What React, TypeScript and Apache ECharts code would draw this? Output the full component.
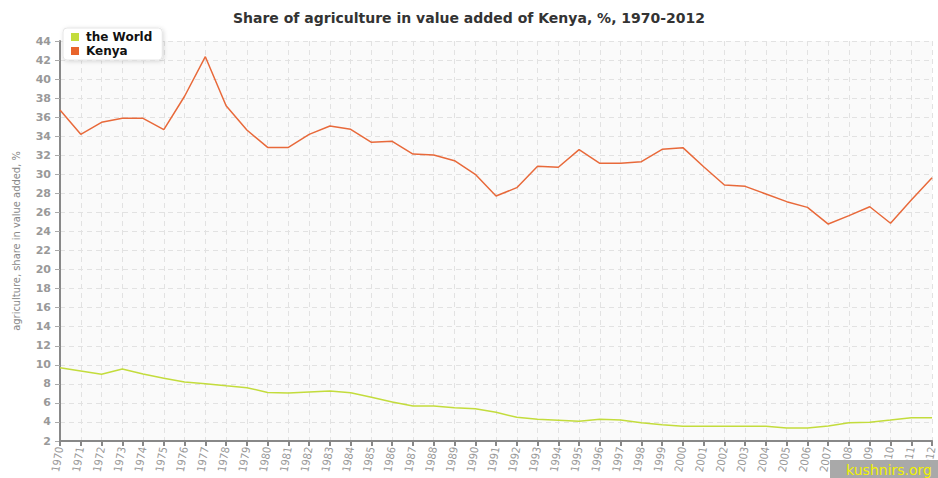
import React, { useEffect, useRef } from "react";
import * as echarts from "echarts";

const years: string[] = [];
for (let y = 1970; y <= 2012; y++) years.push(String(y));

const worldValues = [
  9.7, 9.35, 9.0, 9.56, 9.03, 8.6, 8.2, 8.02, 7.8, 7.6,
  7.1, 7.04, 7.15, 7.25, 7.07, 6.59, 6.1, 5.67, 5.67, 5.5,
  5.39, 5.01, 4.49, 4.28, 4.17, 4.07, 4.28, 4.2, 3.92, 3.71,
  3.54, 3.54, 3.54, 3.54, 3.54, 3.36, 3.36, 3.57, 3.92, 3.96,
  4.2, 4.45, 4.45,
];

const kenyaValues = [
  36.75, 34.2, 35.46, 35.88, 35.88, 34.69, 38.2, 42.35, 37.2, 34.65,
  32.83, 32.83, 34.2, 35.07, 34.73, 33.36, 33.47, 32.13, 32.03, 31.43,
  30.0, 27.72, 28.6, 30.84, 30.74, 32.59, 31.16, 31.16, 31.33, 32.63,
  32.8, 30.8, 28.88, 28.74, 27.93, 27.13, 26.53, 24.78, 25.66, 26.6,
  24.86, 27.3, 29.65,
];

const seriesNames = ["the World", "Kenya"];
const titleText = "Share of agriculture in value added of Kenya, %, 1970-2012";
const yAxisName = "agriculture, share in value added, %";
const watermark = "kushnirs.org";

export default function App() {
  const ref = useRef<HTMLDivElement>(null);
  useEffect(() => {
    if (!ref.current) return;
    const chart = echarts.init(ref.current, undefined, { renderer: "svg" });
    const gridColor = "#e2e2e2";
    chart.setOption({
      animation: false,
      backgroundColor: "#ffffff",
      title: {
        text: titleText,
        left: "center",
        top: 6,
        textStyle: {
          fontFamily: "DejaVu Sans",
          fontSize: 14,
          fontWeight: "bold",
          color: "#333",
        },
      },
      legend: {
        data: seriesNames,
        orient: "vertical",
        left: 63,
        top: 28,
        icon: "rect",
        itemWidth: 8,
        itemHeight: 8,
        itemGap: 2,
        padding: [3, 10, 3, 8],
        backgroundColor: "#ffffff",
        borderColor: "#e6e6e6",
        borderWidth: 1,
        borderRadius: 4,
        shadowBlur: 4,
        shadowColor: "rgba(0,0,0,0.15)",
        shadowOffsetX: 1,
        shadowOffsetY: 1,
        textStyle: {
          fontFamily: "DejaVu Sans",
          fontSize: 12,
          fontWeight: "bold",
          color: "#111",
          padding: [0, 0, 0, 2],
        },
      },
      grid: {
        left: 60,
        right: 5,
        top: 41,
        bottom: 37,
        show: true,
        backgroundColor: "#fafafa",
        borderWidth: 0,
      },
      xAxis: {
        type: "category",
        data: years,
        boundaryGap: false,
        axisLine: { lineStyle: { color: "#888", width: 2 } },
        axisTick: { show: true, length: 5, lineStyle: { color: "#888", width: 2 } },
        axisLabel: {
          rotate: 80,
          interval: 0,
          color: "#999",
          fontFamily: "DejaVu Sans Condensed",
          fontSize: 11,
          margin: 6,
        },
        splitLine: {
          show: true,
          lineStyle: { color: gridColor, type: [5, 4], width: 1 },
        },
      },
      yAxis: {
        type: "value",
        min: 2,
        max: 44,
        interval: 2,
        name: yAxisName,
        nameLocation: "middle",
        nameGap: 38,
        nameRotate: 90,
        nameTextStyle: {
          color: "#888",
          fontFamily: "DejaVu Sans Condensed",
          fontSize: 11,
        },
        axisLine: { show: true, lineStyle: { color: "#888", width: 2 } },
        axisTick: { show: true, length: 5, lineStyle: { color: "#aaa", width: 1 } },
        axisLabel: {
          color: "#999",
          fontFamily: "DejaVu Sans",
          fontSize: 11,
          fontWeight: "bold",
          margin: 9,
        },
        splitLine: {
          show: true,
          lineStyle: { color: gridColor, type: [5, 4], width: 1 },
        },
      },
      series: [
        {
          name: seriesNames[0],
          type: "line",
          data: worldValues,
          showSymbol: false,
          symbol: "none",
          lineStyle: { color: "#c3dc3c", width: 1.5 },
          itemStyle: { color: "#c3dc3c" },
        },
        {
          name: seriesNames[1],
          type: "line",
          data: kenyaValues,
          showSymbol: false,
          symbol: "none",
          lineStyle: { color: "#e8693a", width: 1.5 },
          itemStyle: { color: "#e8642c" },
        },
      ],
      graphic: [
        {
          type: "rect",
          right: 0,
          bottom: 0,
          shape: { width: 108, height: 18 },
          style: { fill: "#a9a9a9" },
          z: 100,
        },
        {
          type: "text",
          right: 6,
          bottom: 1,
          style: {
            text: watermark,
            fill: "#f2f200",
            fontFamily: "DejaVu Sans",
            fontSize: 14,
          },
          z: 101,
        },
      ],
    });
    return () => chart.dispose();
  }, []);
  return <div ref={ref} style={{ width: 938, height: 478, position: "absolute", left: 0, top: 0 }} />;
}
